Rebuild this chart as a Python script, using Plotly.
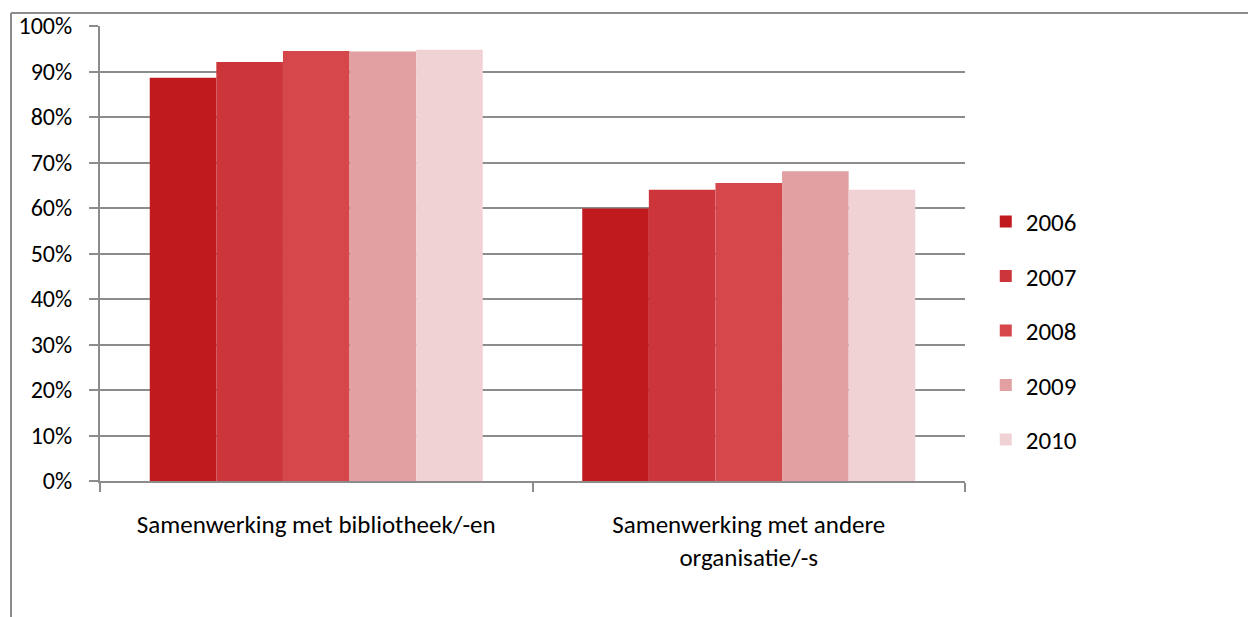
import plotly.graph_objects as go

categories = ["Samenwerking met bibliotheek/-en", "Samenwerking met andere<br>organisatie/-s"]
years = ["2006", "2007", "2008", "2009", "2010"]
values = {
    "2006": [0.886, 0.599],
    "2007": [0.921, 0.640],
    "2008": [0.945, 0.655],
    "2009": [0.944, 0.681],
    "2010": [0.948, 0.640],
}
colors = ["#C01A1F", "#CC3539", "#D6474B", "#E2A0A3", "#F1D2D4"]

FONT = "Carlito, Lato, Open Sans, sans-serif"
W, H = 1248, 617
L, R, T, B = 100, 965, 26, 481

fig = go.Figure()
for y, c in zip(years, colors):
    fig.add_trace(go.Bar(
        x=categories, y=values[y], name=y, legendgroup=y,
        marker=dict(color=c, line=dict(width=0)),
    ))

fig.update_layout(
    width=W, height=H,
    margin=dict(l=L, r=W - R, t=T, b=H - B, pad=0),
    paper_bgcolor="white", plot_bgcolor="white",
    barmode="group", bargap=0.23, bargroupgap=0,
    font=dict(family=FONT, size=24, color="black"),
    legend=dict(x=1.024, y=0.33, xanchor="left", yanchor="middle",
                font=dict(size=25), tracegroupgap=19, itemwidth=30),
    showlegend=True,
)
fig.update_yaxes(
    range=[0, 1], dtick=0.1, tickformat=".0%",
    showgrid=True, gridcolor="#8C8C8C", gridwidth=2,
    showline=True, linecolor="#8C8C8C", linewidth=2,
    ticks="outside", ticklen=9, tickcolor="#8C8C8C", tickwidth=2,
    ticklabelstandoff=12, tickfont=dict(size=24), zeroline=False,
)
fig.update_xaxes(
    showline=True, linecolor="#8C8C8C", linewidth=2,
    ticks="outside", tickson="boundaries", ticklen=9, tickcolor="#8C8C8C", tickwidth=2,
    ticklabelstandoff=20, tickfont=dict(size=25),
)

def px_x(p):
    return (p - L) / (R - L)

def px_y(p):
    return (B - p) / (B - T)

# outer chart frame (left and top edges visible)
fig.add_shape(type="line", xref="paper", yref="paper",
              x0=px_x(11), x1=px_x(11), y0=px_y(700), y1=px_y(13),
              line=dict(color="#8C8C8C", width=2), layer="above")
fig.add_shape(type="line", xref="paper", yref="paper",
              x0=px_x(11), x1=px_x(1300), y0=px_y(13), y1=px_y(13),
              line=dict(color="#8C8C8C", width=2), layer="above")

fig.write_html("out.html", config={"displayModeBar": False})
with open("out.html", encoding="utf-8") as f:
    html = f.read()
html = html.replace("<body>", '<body style="margin:0;padding:0;">', 1)
html = html.replace("<head>", '<head><style>html,body{margin:0;padding:0;}</style>', 1)
with open("out.html", "w", encoding="utf-8") as f:
    f.write(html)
